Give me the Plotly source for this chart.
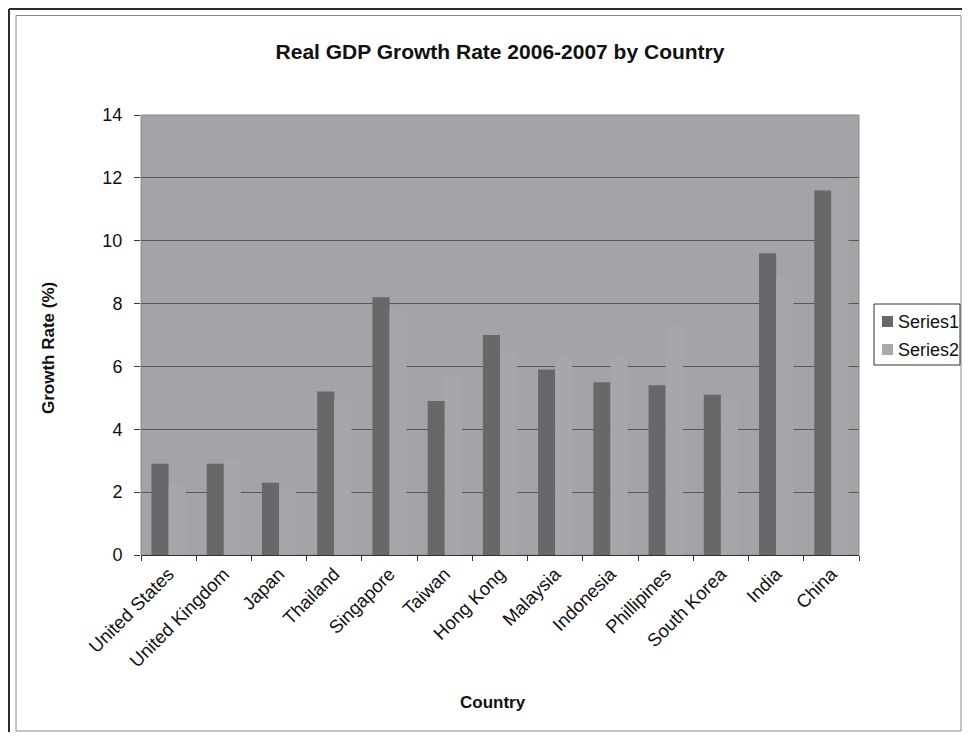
import plotly.graph_objects as go

countries = ["United States", "United Kingdom", "Japan", "Thailand", "Singapore",
             "Taiwan", "Hong Kong", "Malaysia", "Indonesia", "Phillipines",
             "South Korea", "India", "China"]
series1 = [2.9, 2.9, 2.3, 5.2, 8.2, 4.9, 7.0, 5.9, 5.5, 5.4, 5.1, 9.6, 11.6]
series2 = [2.2, 3.0, 2.1, 4.9, 7.8, 5.7, 6.4, 6.3, 6.3, 7.3, 4.9, 8.8, 11.9]
series_names = ["Series1", "Series2"]
y_ticks = [0, 2, 4, 6, 8, 10, 12, 14]

OFF = 8  # page body margin
W, H = 954, 724
L, R, T, B = 141 - OFF, 859 - OFF, 115 - OFF, 555 - OFF

def px(sx):
    return (sx - OFF - L) / (R - L)

def py(sy):
    return 1 - (sy - OFF - T) / (B - T)

FONT = "Arial, Liberation Sans, sans-serif"
C1 = "#68686b"
C2 = "#a6a7ab"
C2_LEG = "#a9a9ad"

fig = go.Figure()
fig.add_trace(go.Bar(x=countries, y=series1, name=series_names[0],
                     marker=dict(color=C1, line=dict(width=0))))
fig.add_trace(go.Bar(x=countries, y=series2, name=series_names[1],
                     marker=dict(color=C2, line=dict(width=0))))

shapes = [
    # outer dark frame (top and left)
    dict(type="line", xref="paper", yref="paper", x0=px(9), x1=px(970), y0=py(9), y1=py(9),
         line=dict(color="#2a2a2a", width=2)),
    dict(type="line", xref="paper", yref="paper", x0=px(9), x1=px(9), y0=py(9), y1=py(740),
         line=dict(color="#2a2a2a", width=2)),
    # inner frame
    dict(type="rect", xref="paper", yref="paper", x0=px(16), x1=px(961), y0=py(15.5), y1=py(731),
         line=dict(color="#8a8a8a", width=1)),
    # plot area border
    dict(type="rect", xref="paper", yref="paper", x0=0, x1=1, y0=0, y1=1,
         line=dict(color="#8c8c8c", width=1), layer="below"),
    # legend box
    dict(type="rect", xref="paper", yref="paper", x0=px(874), x1=px(960), y0=py(304), y1=py(365),
         line=dict(color="#333333", width=1), fillcolor="white"),
    # legend swatches
    dict(type="rect", xref="paper", yref="paper", x0=px(882), x1=px(893), y0=py(316), y1=py(327),
         line=dict(width=0), fillcolor=C1),
    dict(type="rect", xref="paper", yref="paper", x0=px(882), x1=px(893), y0=py(344), y1=py(355),
         line=dict(width=0), fillcolor=C2_LEG),
]

annotations = [
    dict(text="<b>Country</b>", xref="paper", yref="paper", x=px(493), y=py(702),
         showarrow=False, xanchor="center", yanchor="middle",
         font=dict(family=FONT, size=17, color="#111111")),
    dict(text="<b>Growth Rate (%)</b>", xref="paper", yref="paper", x=px(48), y=py(348),
         showarrow=False, xanchor="center", yanchor="middle", textangle=-90,
         font=dict(family=FONT, size=17, color="#111111")),
    dict(text=series_names[0], xref="paper", yref="paper", x=px(896), y=py(321.5),
         showarrow=False, xanchor="left", yanchor="middle",
         font=dict(family=FONT, size=18, color="#111111")),
    dict(text=series_names[1], xref="paper", yref="paper", x=px(896), y=py(349.5),
         showarrow=False, xanchor="left", yanchor="middle",
         font=dict(family=FONT, size=18, color="#111111")),
]

fig.update_layout(
    width=W, height=H,
    margin=dict(l=L, r=W - R, t=T, b=H - B, autoexpand=False),
    paper_bgcolor="white",
    plot_bgcolor="#a3a4a8",
    barmode="group",
    bargap=0.38,
    bargroupgap=0,
    showlegend=False,
    font=dict(family=FONT, size=18, color="#111111"),
    title=dict(text="<b>Real GDP Growth Rate 2006-2007 by Country</b>",
               x=0.5, xref="paper", y=1 - (52 - OFF) / H, yref="container",
               xanchor="center", yanchor="middle",
               font=dict(family=FONT, size=21, color="#111111")),
    xaxis=dict(type="category", tickangle=-45, ticks="outside", tickson="boundaries",
               ticklen=5, tickcolor="#333333", showline=True, linecolor="#333333",
               linewidth=1, showgrid=False, tickfont=dict(size=18.5), automargin=False),
    yaxis=dict(range=[0, 14], tickvals=y_ticks, ticks="outside", ticklen=6,
               tickcolor="#333333", showgrid=True, gridcolor="#575757", gridwidth=1,
               zeroline=False, showline=False, tickfont=dict(size=18), automargin=False,
               ticklabelstandoff=8),
    shapes=shapes,
    annotations=annotations,
)

fig.write_html("out.html")
